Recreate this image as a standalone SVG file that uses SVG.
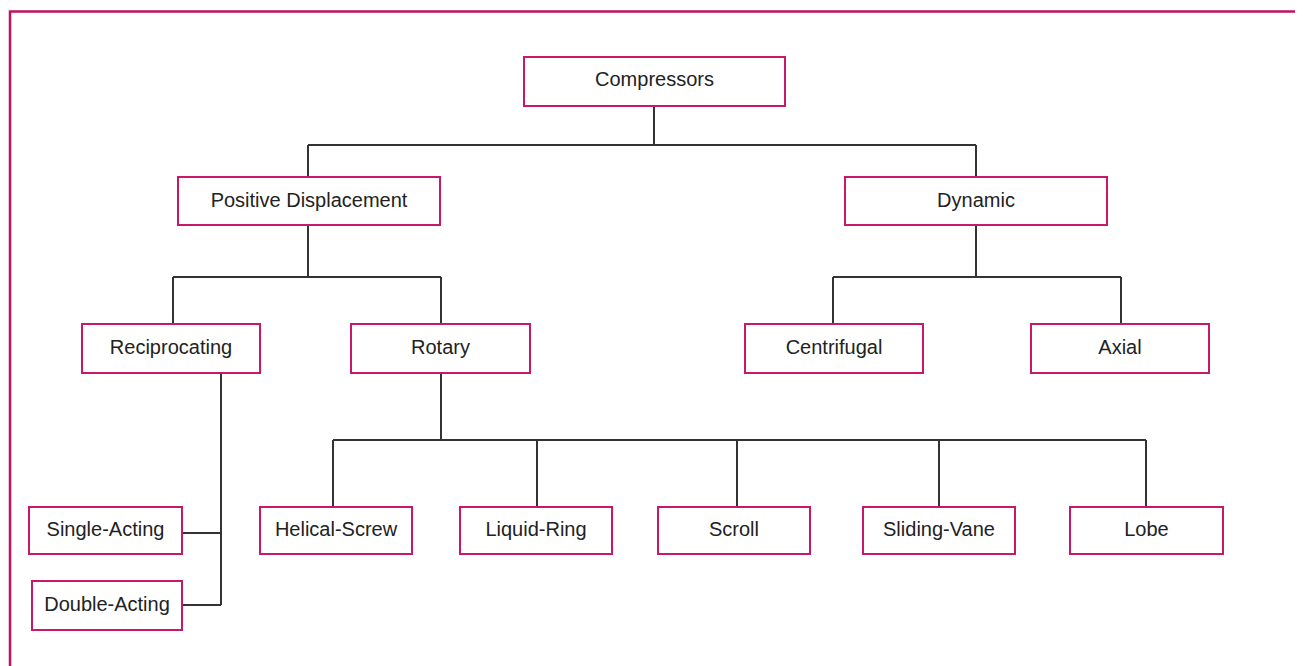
<svg xmlns="http://www.w3.org/2000/svg" width="1303" height="666" viewBox="0 0 1303 666">
<style>
.box{fill:#fff;stroke:#c8186a;stroke-width:2}
.lbl{font-family:"Liberation Sans",Arial,sans-serif;font-size:20px;fill:#222;text-anchor:middle}
.wire{fill:none;stroke:#333;stroke-width:2}
.frame{fill:none;stroke:#c0125f;stroke-width:2.5}
</style>
<rect width="1303" height="666" fill="#fff"/>
<path class="frame" d="M10 680 V11.5 H1295"/>
<g id="connectors">
<path class="wire" d="M654 106 V145 M308 145 H976 M308 145 V177 M976 145 V177"/>
<path class="wire" d="M308 225 V277 M173 277 H441 M173 277 V324 M441 277 V324"/>
<path class="wire" d="M976 225 V277 M833 277 H1121 M833 277 V324 M1121 277 V324"/>
<path class="wire" d="M221 373 V605 M182 533 H221 M182 605 H221"/>
<path class="wire" d="M441 373 V440 M333 440 H1146 M333 440 V507 M537 440 V507 M737 440 V507 M939 440 V507 M1146 440 V507"/>
</g>
<g id="compressors"><rect class="box" x="524" y="57" width="261" height="49"/><text class="lbl" x="654.5" y="86">Compressors</text></g>
<g id="positive-displacement"><rect class="box" x="178" y="177" width="262" height="48"/><text class="lbl" x="309" y="207">Positive Displacement</text></g>
<g id="dynamic"><rect class="box" x="845" y="177" width="262" height="48"/><text class="lbl" x="976" y="207">Dynamic</text></g>
<g id="reciprocating"><rect class="box" x="82" y="324" width="178" height="49"/><text class="lbl" x="171" y="354">Reciprocating</text></g>
<g id="rotary"><rect class="box" x="351" y="324" width="179" height="49"/><text class="lbl" x="440.5" y="354">Rotary</text></g>
<g id="centrifugal"><rect class="box" x="745" y="324" width="178" height="49"/><text class="lbl" x="834" y="354">Centrifugal</text></g>
<g id="axial"><rect class="box" x="1031" y="324" width="178" height="49"/><text class="lbl" x="1120" y="354">Axial</text></g>
<g id="single-acting"><rect class="box" x="29" y="507" width="153" height="47"/><text class="lbl" x="105.5" y="536">Single-Acting</text></g>
<g id="double-acting"><rect class="box" x="32" y="581" width="150" height="49"/><text class="lbl" x="107" y="611">Double-Acting</text></g>
<g id="helical-screw"><rect class="box" x="260" y="507" width="152" height="47"/><text class="lbl" x="336" y="536">Helical-Screw</text></g>
<g id="liquid-ring"><rect class="box" x="460" y="507" width="152" height="47"/><text class="lbl" x="536" y="536">Liquid-Ring</text></g>
<g id="scroll"><rect class="box" x="658" y="507" width="152" height="47"/><text class="lbl" x="734" y="536">Scroll</text></g>
<g id="sliding-vane"><rect class="box" x="863" y="507" width="152" height="47"/><text class="lbl" x="939" y="536">Sliding-Vane</text></g>
<g id="lobe"><rect class="box" x="1070" y="507" width="153" height="47"/><text class="lbl" x="1146.5" y="536">Lobe</text></g>
</svg>
